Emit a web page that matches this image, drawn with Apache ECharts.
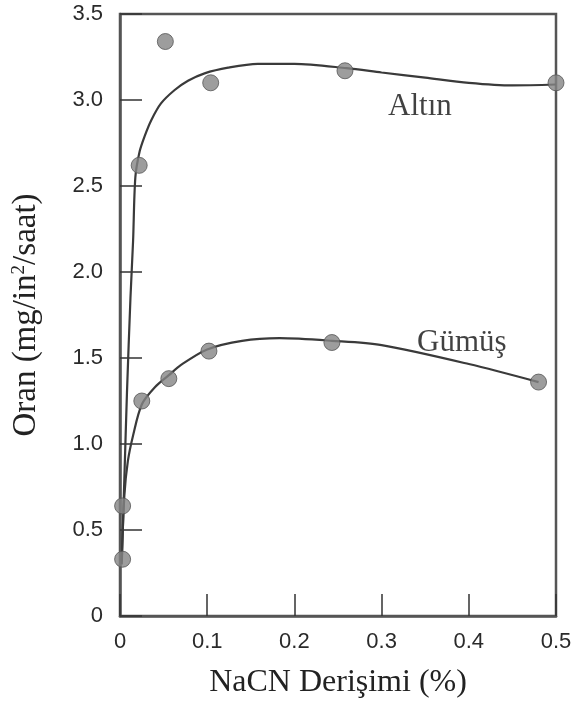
<!DOCTYPE html>
<html style="height: 100%">
    <head>
        <title>NaCN</title>
        <meta charset="utf-8">
    </head>
    <body style="height: 100%; margin: 0; background: #fff">
        <div id="container" style="height: 100%"></div>

        <script type="text/javascript" src="https://cdn.jsdelivr.net/npm/echarts@6.0.0/dist/echarts.min.js"></script>
        <script type="text/javascript">
            // measured points
            var altinPoints = [[0.003, 0.33], [0.022, 2.62], [0.052, 3.34], [0.104, 3.10], [0.258, 3.17], [0.5, 3.10]];
            var gumusPoints = [[0.003, 0.64], [0.025, 1.25], [0.056, 1.38], [0.102, 1.54], [0.243, 1.59], [0.48, 1.36]];
            // fitted curves
            var altinCurve = [[0.002, 0.3], [0.005, 0.8], [0.008, 1.3], [0.012, 1.85], [0.015, 2.18], [0.0176, 2.55], [0.0225, 2.7], [0.0283, 2.79], [0.036, 2.884], [0.047, 2.98], [0.0627, 3.058], [0.078, 3.112], [0.097, 3.155], [0.124, 3.188], [0.158, 3.21], [0.2, 3.21], [0.26, 3.185], [0.3, 3.16], [0.35, 3.13], [0.4, 3.1], [0.45, 3.085], [0.5, 3.09]];
            var gumusCurve = [[0.002, 0.32], [0.005, 0.7], [0.009, 0.9], [0.015, 1.05], [0.025, 1.23], [0.04, 1.33], [0.056, 1.4], [0.07, 1.46], [0.1, 1.55], [0.14, 1.6], [0.183, 1.615], [0.243, 1.6], [0.3, 1.575], [0.4, 1.465], [0.48, 1.36]];
            var xTicks = ['0', '0.1', '0.2', '0.3', '0.4', '0.5'];
            var yTicks = ['0', '0.5', '1.0', '1.5', '2.0', '2.5', '3.0', '3.5'];
            var labels = [{ name: 'Altın', value: [0.344, 2.96] }, { name: 'Gümüş', value: [0.392, 1.587] }];

            var dom = document.getElementById("container");
            var myChart = echarts.init(dom);
            var serif = '"Liberation Serif", "DejaVu Serif", serif';
            var sans = '"Liberation Sans", Arial, sans-serif';

            var option = {
                animation: false,
                grid: {
                    left: 120,
                    top: 14,
                    right: 15,
                    bottom: 86,
                    outerBoundsMode: 'none',
                    containLabel: false,
                    show: true,
                    borderColor: '#555',
                    borderWidth: 2.5
                },
                xAxis: {
                    type: 'value',
                    min: 0,
                    max: 0.5,
                    interval: 0.1,
                    name: 'NaCN Derişimi (%)',
                    nameLocation: 'middle',
                    nameGap: 51,
                    nameTextStyle: { fontFamily: serif, fontSize: 32, color: '#222' },
                    axisLine: { show: true, lineStyle: { color: '#555', width: 2.5 } },
                    axisTick: { show: true, inside: true, length: 22, lineStyle: { color: '#333', width: 1.5 } },
                    axisLabel: {
                        margin: 15,
                        fontFamily: sans,
                        fontSize: 22,
                        color: '#2a2a2a',
                        formatter: function (v) { return xTicks[Math.round(v * 10)]; }
                    },
                    splitLine: { show: false }
                },
                yAxis: {
                    type: 'value',
                    min: 0,
                    max: 3.5,
                    interval: 0.5,
                    name: 'Oran (mg/in{sup|2}/saat)',
                    nameLocation: 'middle',
                    nameGap: 77,
                    nameTextStyle: {
                        fontFamily: serif, fontSize: 33, color: '#222',
                        rich: { sup: { fontFamily: serif, fontSize: 19, color: '#222', verticalAlign: 'top', padding: [0, 0, 14, 0] } }
                    },
                    axisLine: { show: true, lineStyle: { color: '#555', width: 2.5 } },
                    axisTick: { show: true, inside: true, length: 22, lineStyle: { color: '#333', width: 1.5 } },
                    axisLabel: {
                        margin: 17,
                        fontFamily: sans,
                        fontSize: 22,
                        color: '#2a2a2a',
                        formatter: function (v) { return yTicks[Math.round(v * 2)]; }
                    },
                    splitLine: { show: false }
                },
                series: [
                    {
                        type: 'line',
                        smooth: 0.3,
                        symbol: 'none',
                        lineStyle: { color: '#3a3a3a', width: 2.2 },
                        data: altinCurve,
                        z: 2
                    },
                    {
                        type: 'line',
                        smooth: 0.3,
                        symbol: 'none',
                        lineStyle: { color: '#3a3a3a', width: 2.2 },
                        data: gumusCurve,
                        z: 2
                    },
                    {
                        type: 'scatter',
                        symbolSize: 16,
                        itemStyle: { color: '#858585', borderColor: '#555', borderWidth: 1 },
                        data: altinPoints,
                        z: 3
                    },
                    {
                        type: 'scatter',
                        symbolSize: 16,
                        itemStyle: { color: '#858585', borderColor: '#555', borderWidth: 1 },
                        data: gumusPoints,
                        z: 3
                    },
                    {
                        type: 'scatter',
                        symbolSize: 0,
                        silent: true,
                        label: {
                            show: true,
                            position: 'inside',
                            formatter: function (p) { return p.name; },
                            fontFamily: serif,
                            fontSize: 31,
                            color: '#111'
                        },
                        data: labels,
                        z: 4
                    }
                ]
            };
            myChart.setOption(option);
            window.onresize = function () {
                myChart.resize();
            };
        </script>
    </body>
</html>
